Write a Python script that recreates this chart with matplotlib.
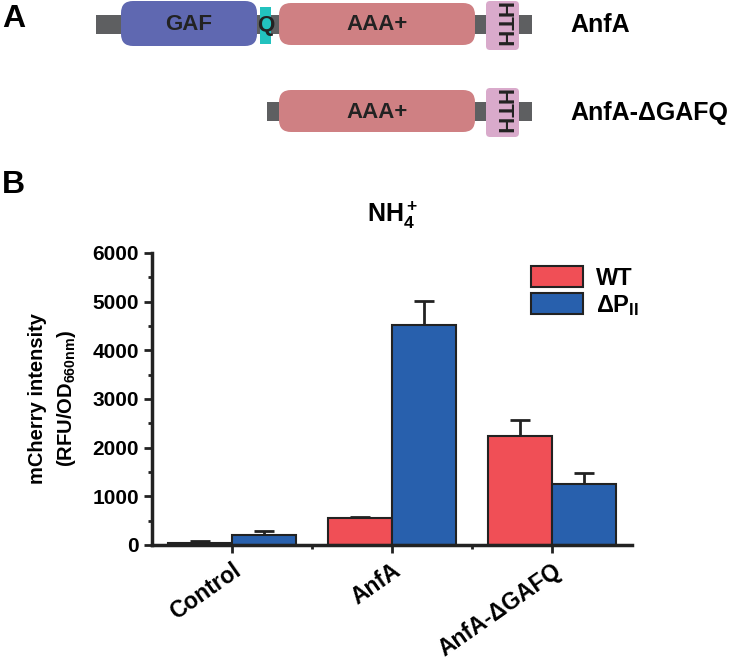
import matplotlib
matplotlib.use('Agg')
import matplotlib.pyplot as plt
import numpy as np
from matplotlib.patches import FancyBboxPatch, Rectangle
from matplotlib.ticker import MultipleLocator

# 字体设置
plt.rcParams['font.family'] = ['Liberation Sans', 'DejaVu Sans']
plt.rcParams['font.weight'] = 'bold'
plt.rcParams['axes.labelweight'] = 'bold'
plt.rcParams['axes.titleweight'] = 'bold'
plt.rcParams['mathtext.fontset'] = 'custom'
plt.rcParams['mathtext.rm'] = 'Liberation Sans:bold'
plt.rcParams['mathtext.it'] = 'Liberation Sans:bold'
plt.rcParams['mathtext.bf'] = 'Liberation Sans:bold'

# data
categories = ['Control', 'AnfA', 'AnfA-ΔGAFQ']
wt_mean = [50, 550, 2245]
wt_err = [25, 30, 330]
dp_mean = [210, 4520, 1250]
dp_err = [70, 500, 220]
series_labels = ['WT', r'ΔP$_{\mathrm{II}}$']

RED = '#f04f56'
BLUE = '#2860ad'
EDGE = '#222222'

fig = plt.figure(figsize=(7.35, 6.6), dpi=100)

# panel A: domain diagram, drawn in pixel coordinates
axd = fig.add_axes([0, 0, 1, 1])
axd.set_xlim(0, 735)
axd.set_ylim(660, 0)
axd.axis('off')

def box(x0, x1, y0, y1, color, r=0, z=2):
    if r > 0:
        p = FancyBboxPatch((x0, y0), x1 - x0, y1 - y0,
                           boxstyle=f"round,pad=0,rounding_size={r}",
                           fc=color, ec='none', zorder=z)
    else:
        p = Rectangle((x0, y0), x1 - x0, y1 - y0, fc=color, ec='none', zorder=z)
    axd.add_patch(p)

GRAY = '#5e5f61'
GAF_C = '#5f68b1'
Q_C = '#22c2be'
AAA_C = '#cf8083'
HTH_C = '#d9aacb'
TXT = '#222222'

# row 1: AnfA
box(96, 532, 15, 34, GRAY, z=1)
box(121, 257, 1, 46, GAF_C, r=12)
box(260, 271, 7, 44, Q_C)
box(279, 475, 3, 45, AAA_C, r=12)
box(486, 519, 1, 50, HTH_C, r=4)
axd.text(189, 25, 'GAF', ha='center', va='center', fontsize=16, color=TXT, zorder=3)
axd.text(265.5, 25, 'Q', ha='center', va='center', fontsize=16, color=TXT, zorder=3)
axd.text(377, 25, 'AAA+', ha='center', va='center', fontsize=16, color=TXT, zorder=3)
axd.text(502.5, 25, 'HTH', ha='center', va='center', fontsize=16, color=TXT,
         rotation=-90, zorder=3)
axd.text(570, 25, 'AnfA', ha='left', va='center', fontsize=18, color='black')

# row 2: AnfA-ΔGAFQ
box(267, 532, 102, 121, GRAY, z=1)
box(279, 475, 90, 132, AAA_C, r=12)
box(486, 519, 88, 137, HTH_C, r=4)
axd.text(377, 112, 'AAA+', ha='center', va='center', fontsize=16, color=TXT, zorder=3)
axd.text(502.5, 112, 'HTH', ha='center', va='center', fontsize=16, color=TXT,
         rotation=-90, zorder=3)
axd.text(570, 113, 'AnfA-ΔGAFQ', ha='left', va='center', fontsize=18, color='black')

# panel letters
axd.text(2, 19, 'A', ha='left', va='center', fontsize=23, color='black')
axd.text(2, 185, 'B', ha='left', va='center', fontsize=23, color='black')

# panel B: bar chart
ax = fig.add_axes([152 / 735, 1 - 545 / 660, 480 / 735, 292 / 660])
x = np.arange(len(categories))
w = 0.4
ax.bar(x - w / 2, wt_mean, w, color=RED, edgecolor=EDGE, linewidth=1.5,
       label=series_labels[0], zorder=2)
ax.bar(x + w / 2, dp_mean, w, color=BLUE, edgecolor=EDGE, linewidth=1.5,
       label=series_labels[1], zorder=2)
ax.errorbar(x - w / 2, wt_mean, yerr=[np.zeros(3), wt_err], fmt='none',
            ecolor=EDGE, elinewidth=2, capsize=7, capthick=2, zorder=1)
ax.errorbar(x + w / 2, dp_mean, yerr=[np.zeros(3), dp_err], fmt='none',
            ecolor=EDGE, elinewidth=2, capsize=7, capthick=2, zorder=1)

ax.set_xlim(-0.5, 2.5)
ax.set_ylim(0, 6000)
ax.yaxis.set_major_locator(MultipleLocator(1000))
ax.yaxis.set_minor_locator(MultipleLocator(500))
ax.set_xticks(x)
ax.set_xticks([0.5, 1.5], minor=True)
ax.set_xticklabels(categories, rotation=35, ha='right', rotation_mode='anchor',
                   fontsize=16.5)
ax.tick_params(axis='y', labelsize=15)
ax.tick_params(which='major', length=6, width=2, color=EDGE)
ax.tick_params(which='minor', length=3, width=2, color=EDGE)
ax.tick_params(axis='x', which='major', pad=4)

for s in ['top', 'right']:
    ax.spines[s].set_visible(False)
for s in ['left', 'bottom']:
    ax.spines[s].set_linewidth(2.5)
    ax.spines[s].set_color(EDGE)

ax.set_ylabel('mCherry intensity\n' + r'(RFU/OD$_{\mathrm{660nm}}$)', fontsize=14.5,
              labelpad=10, linespacing=1.5)
ax.set_title(r'NH$_4^+$', fontsize=18, pad=22)

leg = ax.legend(loc='upper left', bbox_to_anchor=(0.79, 0.955), fontsize=17,
                frameon=False, handlelength=2.2, handleheight=1.0,
                handletextpad=0.55, labelspacing=0.12, borderpad=0,
                borderaxespad=0)

fig.savefig('out.png', dpi=100)
